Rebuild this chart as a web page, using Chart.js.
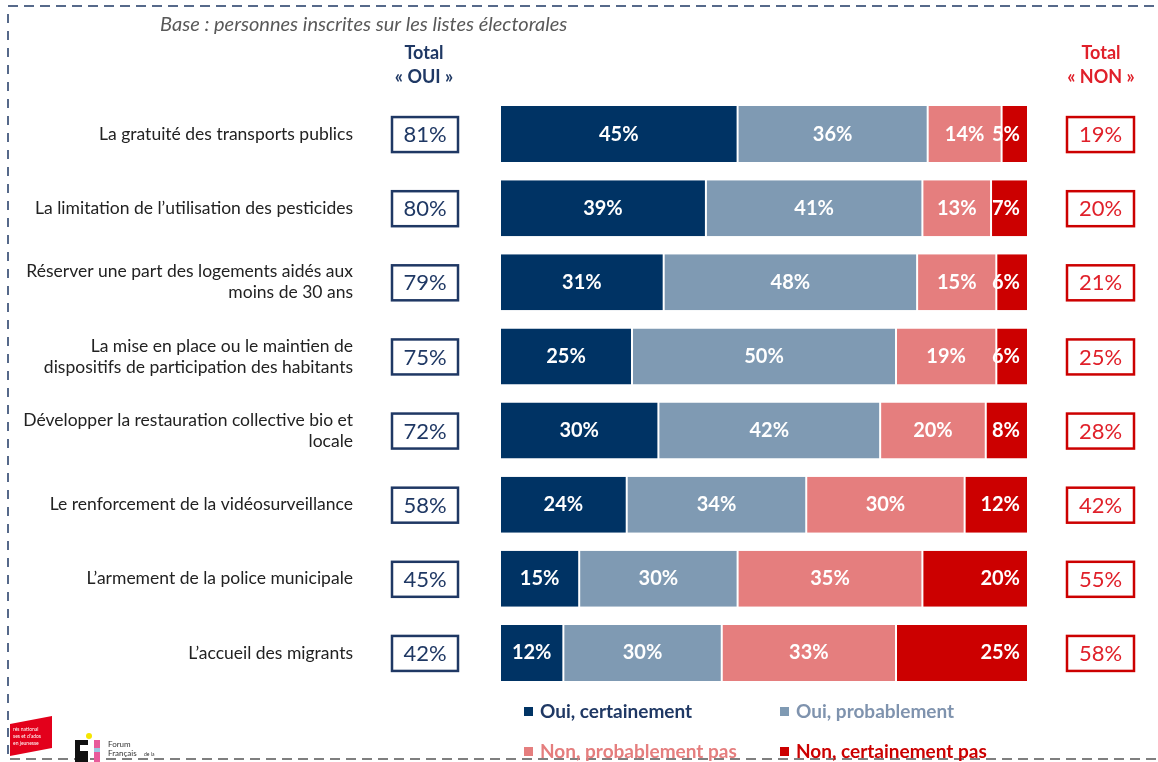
<!DOCTYPE html>
<html>
<head>
<meta charset="utf-8">
<script src="https://cdn.jsdelivr.net/npm/chart.js@4"></script>
<style>
  html, body { margin: 0; padding: 0; background: #fff; }
  #wrap { width: 1158px; height: 762px; position: relative; }
</style>
</head>
<body>
<div id="wrap"><canvas id="chart" width="1158" height="762"></canvas></div>
<script>
// Data
const categories = [
    'La gratuité des transports publics',
    'La limitation de l\u2019utilisation des pesticides',
    ['Réserver une part des logements aidés aux', 'moins de 30 ans'],
    ['La mise en place ou le maintien de', 'dispositifs de participation des habitants'],
    ['Développer la restauration collective bio et', 'locale'],
    'Le renforcement de la vidéosurveillance',
    'L\u2019armement de la police municipale',
    'L\u2019accueil des migrants'
];
const ouiCertainement = [45, 39, 31, 25, 30, 24, 15, 12];
const ouiProbablement = [36, 41, 48, 50, 42, 34, 30, 30];
const nonProbablement = [14, 13, 15, 19, 20, 30, 35, 33];
const nonCertainement = [5, 7, 6, 6, 8, 12, 20, 25];
const totalOui = [81, 80, 79, 75, 72, 58, 45, 42];
const totalNon = [19, 20, 21, 25, 28, 42, 55, 58];
const seriesNames = ['Oui, certainement', 'Oui, probablement', 'Non, probablement pas', 'Non, certainement pas'];

const colors = ['#003364', '#7F9AB3', '#E57E7E', '#CC0000'];
const legendText = ['#1F3864', '#7F93AE', '#E57E7E', '#CC0000'];
const FONT = 'Lato, "Open Sans", sans-serif';

// labels on the segments
const segmentLabels = {
    id: 'segmentLabels',
    afterDatasetsDraw(chart) {
        const ctx = chart.ctx;
        ctx.save();
        ctx.font = 'bold 20px ' + FONT;
        ctx.fillStyle = '#fff';
        ctx.textBaseline = 'middle';
        chart.data.datasets.forEach((ds, di) => {
            const meta = chart.getDatasetMeta(di);
            meta.data.forEach((bar, i) => {
                const txt = ds.data[i] + '%';
                const left = Math.min(bar.x, bar.base);
                const right = Math.max(bar.x, bar.base);
                if (di === 3) {
                    ctx.textAlign = 'right';
                    ctx.fillText(txt, right - 8, bar.y);
                } else {
                    ctx.textAlign = 'center';
                    ctx.fillText(txt, (left + right) / 2, bar.y);
                }
            });
        });
        ctx.restore();
    }
};

// category labels, totals, headers, legend, frame
const decorations = {
    id: 'decorations',
    afterDraw(chart) {
        const ctx = chart.ctx;
        const yScale = chart.scales.y;
        ctx.save();

        // dashed frame
        ctx.lineWidth = 1.5;
        ctx.setLineDash([10, 6]);
        ctx.strokeStyle = '#1F3864';
        ctx.beginPath();
        ctx.moveTo(8, 6); ctx.lineTo(1158, 6);
        ctx.stroke();
        ctx.setLineDash([9, 8]);
        ctx.beginPath();
        ctx.moveTo(8, 14); ctx.lineTo(8, 762);
        ctx.stroke();
        ctx.strokeStyle = '#555';
        ctx.setLineDash([10, 6]);
        ctx.beginPath();
        ctx.moveTo(10, 759); ctx.lineTo(1158, 759);
        ctx.stroke();
        ctx.setLineDash([]);

        // base text
        ctx.fillStyle = '#595959';
        ctx.font = 'italic 20px ' + FONT;
        ctx.textAlign = 'left';
        ctx.textBaseline = 'middle';
        ctx.fillText('Base : personnes inscrites sur les listes électorales', 160, 25);

        // headers
        ctx.textAlign = 'center';
        ctx.font = 'bold 18px ' + FONT;
        ctx.fillStyle = '#1F3864';
        ctx.fillText('Total', 424, 53);
        ctx.fillText('\u00AB OUI \u00BB', 424, 77);
        ctx.fillStyle = '#E0202A';
        ctx.fillText('Total', 1101, 53);
        ctx.fillText('\u00AB NON \u00BB', 1101, 77);

        // category labels
        ctx.textAlign = 'right';
        ctx.font = '17.5px ' + FONT;
        ctx.fillStyle = '#222';
        categories.forEach((c, i) => {
            const y = yScale.getPixelForValue(i);
            const lines = Array.isArray(c) ? c : [c];
            const lh = 21;
            lines.forEach((line, k) => {
                ctx.fillText(line, 353, y + (k - (lines.length - 1) / 2) * lh);
            });
        });

        // total boxes
        ctx.textAlign = 'center';
        ctx.font = '22px ' + FONT;
        ctx.lineWidth = 2.5;
        categories.forEach((c, i) => {
            const y = yScale.getPixelForValue(i);
            ctx.strokeStyle = '#1F3864';
            ctx.strokeRect(392, y - 17, 66, 35);
            ctx.fillStyle = '#1F3864';
            ctx.fillText(totalOui[i] + '%', 425, y + 1);
            ctx.strokeStyle = '#CC0000';
            ctx.strokeRect(1067, y - 17, 67, 35);
            ctx.fillStyle = '#E0202A';
            ctx.fillText(totalNon[i] + '%', 1100.5, y + 1);
        });

        // legend
        ctx.font = 'bold 19px ' + FONT;
        ctx.textAlign = 'left';
        const legPos = [[524, 712], [780, 712], [524, 752], [780, 752]];
        seriesNames.forEach((name, i) => {
            const [x, y] = legPos[i];
            ctx.fillStyle = colors[i];
            ctx.fillRect(x, y - 5, 9, 9);
            ctx.fillStyle = legendText[i];
            ctx.fillText(name, x + 16, y);
        });

        // logos (rough)
        ctx.fillStyle = '#E3001B';
        ctx.beginPath();
        ctx.moveTo(10, 724); ctx.lineTo(52, 716); ctx.lineTo(52, 748); ctx.lineTo(10, 756);
        ctx.closePath();
        ctx.fill();
        ctx.fillStyle = '#fff';
        ctx.font = '5px ' + FONT;
        ctx.fillText('rés national', 13, 729);
        ctx.fillText('ses et d\u2019ados', 13, 736);
        ctx.fillText('en jeunesse', 13, 743);
        ctx.fillStyle = '#111';
        ctx.fillRect(75, 740, 13, 22);
        ctx.fillStyle = '#fff';
        ctx.fillRect(80, 745, 8, 6);
        ctx.fillStyle = '#F5E600';
        ctx.beginPath(); ctx.arc(89, 736, 3, 0, Math.PI * 2); ctx.fill();
        ctx.fillStyle = '#E85A9A';
        ctx.fillRect(94, 740, 6, 22);
        ctx.fillStyle = '#9BC8E0';
        ctx.fillRect(94, 748, 6, 4);
        ctx.fillStyle = '#333';
        ctx.font = '8px ' + FONT;
        ctx.fillText('Forum', 108, 744);
        ctx.fillText('Français', 108, 753);
        ctx.font = '5px ' + FONT;
        ctx.fillText('de la', 144, 754);

        ctx.restore();
    }
};

const ctx = document.getElementById('chart').getContext('2d');
new Chart(ctx, {
    type: 'bar',
    data: {
        labels: categories,
        datasets: [ouiCertainement, ouiProbablement, nonProbablement, nonCertainement].map((d, i) => ({
            label: seriesNames[i],
            data: d,
            backgroundColor: colors[i],
            borderColor: '#ffffff',
            borderWidth: { left: 1, right: 1, top: 0, bottom: 0 },
            borderSkipped: false,
            barPercentage: 0.755,
            categoryPercentage: 1.0
        }))
    },
    options: {
        indexAxis: 'y',
        responsive: false,
        animation: false,
        layout: { padding: { left: 500, right: 130, top: 97, bottom: 72 } },
        plugins: {
            legend: { display: false },
            tooltip: { enabled: false },
            title: { display: false }
        },
        scales: {
            x: { stacked: true, min: 0, max: 100, display: false },
            y: { stacked: true, display: false }
        }
    },
    plugins: [segmentLabels, decorations]
});
</script>
</body>
</html>
